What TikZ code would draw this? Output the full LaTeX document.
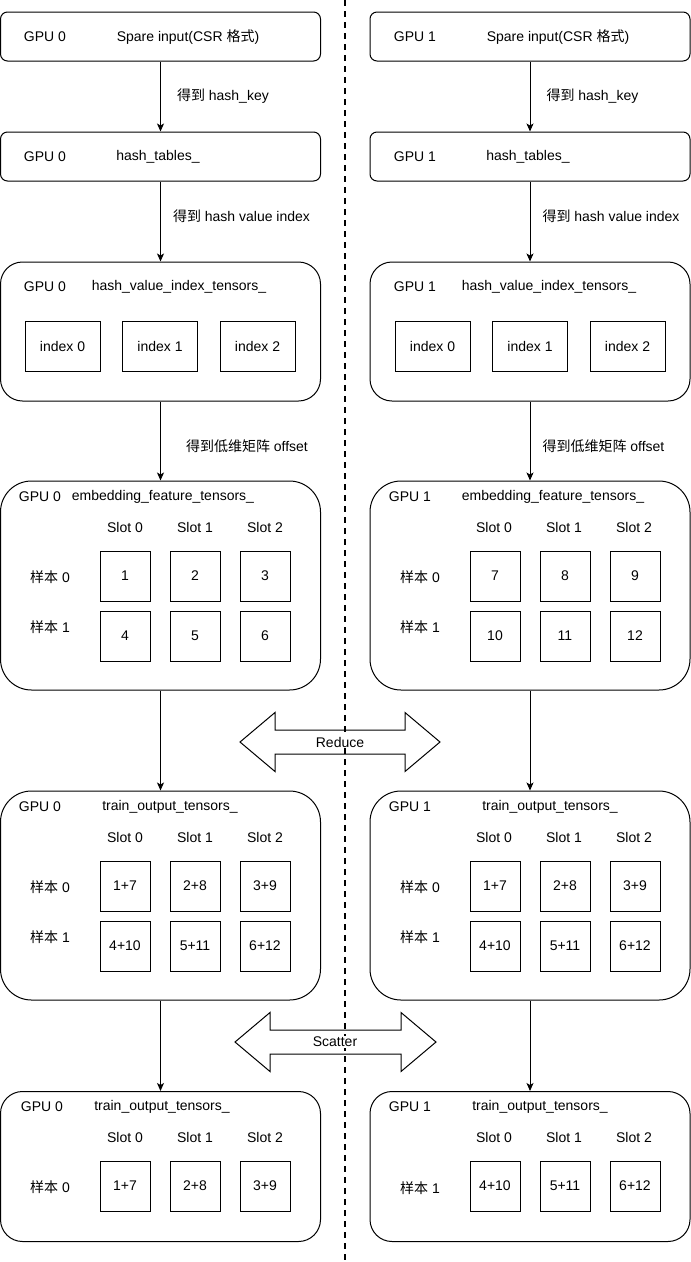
\documentclass[tikz,border=0pt]{standalone}
\usepackage{fontspec}
\setmainfont{Liberation Sans}
\newfontfamily\cjk{Noto Sans CJK SC}
\usetikzlibrary{arrows.meta, positioning}

\begin{document}
\begin{tikzpicture}[
    x=1pt, y=-1pt,
    font=\fontsize{14}{16}\selectfont,
    every node/.style={inner sep=1pt},
    card/.style={
        rectangle, rounded corners=7pt, draw=black, line width=1pt,
        minimum width=320pt, minimum height=49pt
    },
    panel/.style={
        rectangle, rounded corners=22pt, draw=black, line width=1pt,
        minimum width=320pt
    },
    cell/.style={
        rectangle, draw=black, line width=1pt, minimum size=50pt, inner sep=0pt
    },
    idx/.style={
        rectangle, draw=black, line width=1pt, minimum width=75pt,
        minimum height=50pt, inner sep=0pt
    },
    flow/.style={-{Stealth[length=8pt,width=7pt,inset=2pt]}, draw=black, line width=1pt},
    dbl/.style={draw=black, line width=1pt, line join=miter},
    divider/.style={draw=black, line width=2pt, dash pattern=on 6pt off 5pt}
]
\useasboundingbox (0,0) rectangle (691,1262);

% divider between the two GPUs
\draw[divider] (345,0) -- (345,1262);

% frames
\node[card] (sp0) at (160.5,36.5) {};
\node[card] (sp1) at (530,36.5)   {};
\node[card] (ht0) at (160.5,156.5) {};
\node[card] (ht1) at (530,156.5)   {};
\node[panel, minimum height=139pt] (hv0) at (160.5,331.5) {};
\node[panel, minimum height=139pt] (hv1) at (530,331.5)   {};
\node[panel, rounded corners=31pt, minimum height=209pt] (em0) at (160.5,585.5) {};
\node[panel, rounded corners=31pt, minimum height=209pt] (em1) at (530,585.5)   {};
\node[panel, rounded corners=31pt, minimum height=209pt] (tr0) at (160.5,895.5) {};
\node[panel, rounded corners=31pt, minimum height=209pt] (tr1) at (530,895.5)   {};
\node[panel, minimum height=150pt] (ot0) at (160.5,1166.5) {};
\node[panel, minimum height=150pt] (ot1) at (530,1166.5)   {};

% titles
\node (g-sp0) at (45,37)   {GPU 0};
\node (t-sp0) at (188,37)  {Spare input(CSR {\cjk 格式})};
\node (g-sp1) at (415,37)  {GPU 1};
\node (t-sp1) at (558,37)  {Spare input(CSR {\cjk 格式})};
\node (g-ht0) at (45,157)  {GPU 0};
\node (t-ht0) at (158,157) {hash\_tables\_};
\node (g-ht1) at (415,157) {GPU 1};
\node (t-ht1) at (528,157) {hash\_tables\_};
\node (g-hv0) at (45,287)  {GPU 0};
\node (t-hv0) at (179,287) {hash\_value\_index\_tensors\_};
\node (g-hv1) at (415,287) {GPU 1};
\node (t-hv1) at (549,287) {hash\_value\_index\_tensors\_};
\node (g-em0) at (40,497)  {GPU 0};
\node (t-em0) at (163,497) {embedding\_feature\_tensors\_};
\node (g-em1) at (410,497) {GPU 1};
\node (t-em1) at (553,497) {embedding\_feature\_tensors\_};
\node (g-tr0) at (40,807)  {GPU 0};
\node (t-tr0) at (170,807) {train\_output\_tensors\_};
\node (g-tr1) at (410,807) {GPU 1};
\node (t-tr1) at (550,807) {train\_output\_tensors\_};
\node (g-ot0) at (42,1107)  {GPU 0};
\node (t-ot0) at (162,1107) {train\_output\_tensors\_};
\node (g-ot1) at (410,1107) {GPU 1};
\node (t-ot1) at (540,1107) {train\_output\_tensors\_};

% index blocks
\foreach \k/\xl/\xr in {0/62.5/432.5, 1/160/530, 2/257.5/627.5}{
  \node[idx] (ix0-\k) at (\xl,346) {index \k};
  \node[idx] (ix1-\k) at (\xr,346) {index \k};
}

% slot headers
\foreach \c in {0,1,2}{
  \node (se0-\c) at (125+70*\c,527)  {Slot \c};
  \node (se1-\c) at (494+70*\c,527)  {Slot \c};
  \node (st0-\c) at (125+70*\c,837)  {Slot \c};
  \node (st1-\c) at (494+70*\c,837)  {Slot \c};
  \node (so0-\c) at (125+70*\c,1137) {Slot \c};
  \node (so1-\c) at (494+70*\c,1137) {Slot \c};
}

% sample rows
\node (re0-0) at (50,577)   {{\cjk 样本} 0};
\node (re0-1) at (50,627)   {{\cjk 样本} 1};
\node (re1-0) at (420,577)  {{\cjk 样本} 0};
\node (re1-1) at (420,627)  {{\cjk 样本} 1};
\node (rt0-0) at (50,887)   {{\cjk 样本} 0};
\node (rt0-1) at (50,937)   {{\cjk 样本} 1};
\node (rt1-0) at (420,887)  {{\cjk 样本} 0};
\node (rt1-1) at (420,937)  {{\cjk 样本} 1};
\node (ro0-0) at (50,1187)  {{\cjk 样本} 0};
\node (ro1-1) at (420,1188) {{\cjk 样本} 1};

% cells
\foreach \c/\r/\a/\b in {0/0/1/7, 1/0/2/8, 2/0/3/9, 0/1/4/10, 1/1/5/11, 2/1/6/12}{
  \node[cell] (ce0-\r\c) at (125+70*\c,576+60*\r) {\a};
  \node[cell] (ce1-\r\c) at (495+70*\c,576+60*\r) {\b};
  \node[cell] (ct0-\r\c) at (125+70*\c,886+60*\r) {\a+\b};
  \node[cell] (ct1-\r\c) at (495+70*\c,886+60*\r) {\a+\b};
}
\foreach \c/\a/\b in {0/1/7, 1/2/8, 2/3/9}
  \node[cell] (co0-\c) at (125+70*\c,1186) {\a+\b};
\foreach \c/\a/\b in {0/4/10, 1/5/11, 2/6/12}
  \node[cell] (co1-\c) at (495+70*\c,1186) {\a+\b};

% flow between stages
\draw[flow] (sp0) -- node[pos=.5,  right=15pt] (l-key0) {{\cjk 得到} hash\_key} (ht0);
\draw[flow] (sp1) -- node[pos=.5,  right=15pt] (l-key1) {{\cjk 得到} hash\_key} (ht1);
\draw[flow] (ht0) -- node[pos=.43, right=11pt] (l-val0) {{\cjk 得到} hash value index} (hv0);
\draw[flow] (ht1) -- node[pos=.43, right=11pt] (l-val1) {{\cjk 得到} hash value index} (hv1);
\draw[flow] (hv0) -- node[pos=.56, right=24pt] (l-off0) {{\cjk 得到低维矩阵} offset} (em0);
\draw[flow] (hv1) -- node[pos=.56, right=11pt] (l-off1) {{\cjk 得到低维矩阵} offset} (em1);
\draw[flow] (em0) -- (tr0);
\draw[flow] (em1) -- (tr1);
\draw[flow] (tr0) -- (ot0);
\draw[flow] (tr1) -- (ot1);

% collective ops
\draw[dbl] (240,742) -- (275,712.5) -- (275,730) -- (405,730) -- (405,712.5)
  -- (440,742) -- (405,771.5) -- (405,754) -- (275,754) -- (275,771.5) -- cycle;
\node[fill=white] (reduce) at (340,742) {Reduce};
\draw[dbl] (235,1042) -- (270,1012.5) -- (270,1030) -- (401,1030) -- (401,1012.5)
  -- (436,1042) -- (401,1071.5) -- (401,1054) -- (270,1054) -- (270,1071.5) -- cycle;
\node[fill=white] (scatter) at (335,1042) {Scatter};
\end{tikzpicture}
\end{document}
